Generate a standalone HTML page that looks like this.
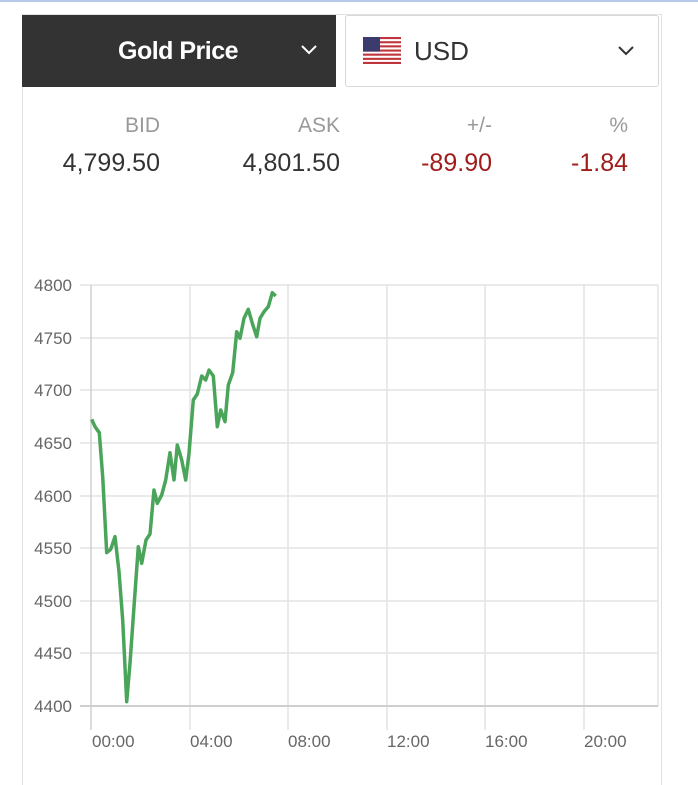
<!DOCTYPE html>
<html><head><meta charset="utf-8"><style>
body{margin:0;width:698px;height:777px;background:#fff;position:relative;overflow:hidden;font-family:"Liberation Sans",sans-serif}
.topline{position:absolute;left:0;top:0;width:698px;height:2px;background:#b8c8e8}
.frame{position:absolute;left:22px;top:14px;width:638px;height:770px;border:1px solid #e2e2e2;border-bottom:none}
.dark{position:absolute;left:22px;top:15px;width:314px;height:72px;background:#333}
.dark span{position:absolute;left:96px;top:22px;color:#fff;font-size:25px;font-weight:bold;letter-spacing:-0.5px}
.usd{position:absolute;left:345px;top:15px;width:312px;height:70px;border:1px solid #d8d8d8;border-radius:3px;background:#fff}
.usd span{position:absolute;left:68px;top:20px;font-size:26px;color:#333}
.lab{position:absolute;top:114px;font-size:21px;color:#999;text-align:right}
.val{position:absolute;top:149px;font-size:25px;color:#333;text-align:right}
.red{color:#a01c1c}
</style></head><body>
<div class="topline"></div>
<div class="frame"></div>
<div class="dark"><span>Gold Price</span>
<svg style="position:absolute;left:279px;top:30px" width="16" height="10"><polyline points="1,1 8,8 15,1" fill="none" stroke="#fff" stroke-width="2"/></svg></div>
<div class="usd">
<svg style="position:absolute;left:17px;top:21px" width="38" height="27">
<rect width="38" height="27" fill="#fff"/>
<g fill="#c0343c"><rect y="0" width="38" height="2.1"/><rect y="4.2" width="38" height="2.1"/><rect y="8.3" width="38" height="2.1"/><rect y="12.5" width="38" height="2.1"/><rect y="16.6" width="38" height="2.1"/><rect y="20.8" width="38" height="2.1"/><rect y="24.9" width="38" height="2.1"/></g>
<rect width="17" height="14.6" fill="#3c3b6e"/></svg>
<span>USD</span>
<svg style="position:absolute;left:272px;top:30px" width="16" height="10"><polyline points="1,1 8,8 15,1" fill="none" stroke="#333" stroke-width="2"/></svg></div>
<div class="lab" style="left:60px;width:100px">BID</div>
<div class="lab" style="left:240px;width:100px">ASK</div>
<div class="lab" style="left:392px;width:100px">+/-</div>
<div class="lab" style="left:528px;width:100px">%</div>
<div class="val" style="left:40px;width:120px">4,799.50</div>
<div class="val" style="left:220px;width:120px">4,801.50</div>
<div class="val red" style="left:372px;width:120px">-89.90</div>
<div class="val red" style="left:508px;width:120px">-1.84</div>
<svg style="position:absolute;left:0;top:0" width="698" height="777">
<g stroke="#e3e3e3" stroke-width="1.5">
<line x1="80" y1="285" x2="658" y2="285"/><line x1="80" y1="338" x2="658" y2="338"/><line x1="80" y1="390" x2="658" y2="390"/><line x1="80" y1="443" x2="658" y2="443"/><line x1="80" y1="496" x2="658" y2="496"/><line x1="80" y1="548" x2="658" y2="548"/><line x1="80" y1="601" x2="658" y2="601"/><line x1="80" y1="653" x2="658" y2="653"/>
<line x1="190" y1="285" x2="190" y2="730"/><line x1="288" y1="285" x2="288" y2="730"/><line x1="387" y1="285" x2="387" y2="730"/><line x1="485" y1="285" x2="485" y2="730"/><line x1="584" y1="285" x2="584" y2="730"/><line x1="658" y1="285" x2="658" y2="706"/>
</g>
<line x1="91" y1="285" x2="91" y2="730" stroke="#d0d0d0" stroke-width="1.5"/>
<line x1="80" y1="706" x2="658" y2="706" stroke="#cfcfcf" stroke-width="2"/>
<g font-size="17" fill="#666" text-anchor="end">
<text x="72" y="291">4800</text><text x="72" y="344">4750</text><text x="72" y="396">4700</text><text x="72" y="449">4650</text><text x="72" y="502">4600</text><text x="72" y="554">4550</text><text x="72" y="607">4500</text><text x="72" y="659">4450</text><text x="72" y="712">4400</text></g>
<g font-size="17" fill="#666">
<text x="92" y="747">00:00</text><text x="190" y="747">04:00</text><text x="288" y="747">08:00</text><text x="387" y="747">12:00</text><text x="485" y="747">16:00</text><text x="584" y="747">20:00</text></g>
<polyline fill="none" stroke="#4aa55a" stroke-width="3.5" stroke-linejoin="round" points="91.7,419.3 95,426.7 99.3,432.7 102.7,476.7 106.7,552.7 110.7,549.3 115,536.7 119,571.7 122.7,620 126.7,701.7 130,663.3 134,606.7 138.3,546.7 141.7,563.3 146,540 150,534 154,490 157.3,503.3 161.7,495 165.7,480 170,452.7 174,480 177.3,445 181.7,460 185.7,480 189,453.3 193.3,400 197.3,394 201.7,376 205.7,380 209,370 213.3,376 217.3,426.7 220.7,410 225,421.7 228.3,385 232.7,372.7 236.7,331.7 240,338.3 244,318.3 248.3,309.3 252.3,323.3 256.7,336.7 260,318.3 264,311.7 268.3,306.7 272.3,292.7 275.7,296"/>
</svg>
</body></html>
